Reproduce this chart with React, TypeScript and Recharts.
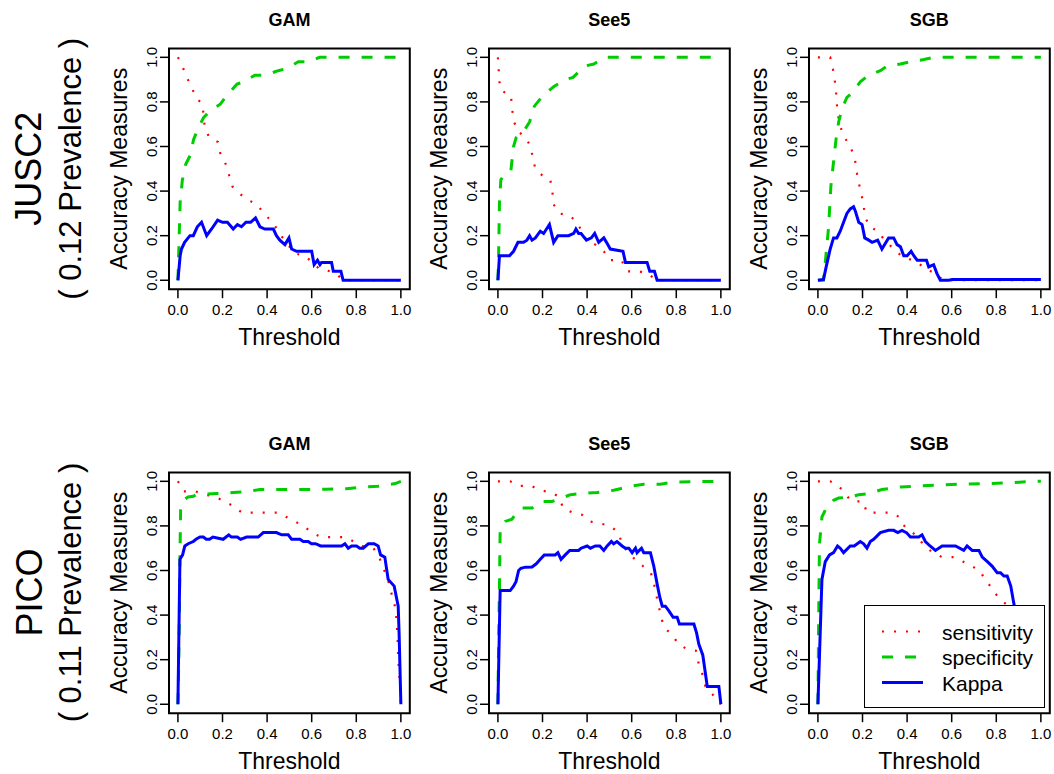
import { LineChart, Line, XAxis, YAxis, ReferenceArea, Legend } from 'recharts'

type Pt = [number, number]

// threshold vs measure
// JUSC2 (0.12 prevalence)
const gamJuscSens: Pt[] = [[0, 1], [0.02, 0.96], [0.04, 0.91], [0.06, 0.87], [0.08, 0.82], [0.11, 0.79], [0.115, 0.74], [0.12, 0.69], [0.14, 0.64], [0.18, 0.62], [0.19, 0.57], [0.215, 0.52], [0.23, 0.47], [0.245, 0.42], [0.275, 0.39], [0.315, 0.36], [0.355, 0.34], [0.385, 0.3], [0.415, 0.27], [0.445, 0.23], [0.47, 0.19], [0.525, 0.12], [0.57, 0.11], [0.635, 0.05], [0.685, 0.04], [0.72, 0.02], [0.74, 0], [1, 0]]
const gamJuscSpec: Pt[] = [[0, 0], [0.01, 0.35], [0.02, 0.45], [0.035, 0.52], [0.055, 0.56], [0.07, 0.63], [0.09, 0.68], [0.115, 0.73], [0.145, 0.76], [0.19, 0.79], [0.22, 0.83], [0.265, 0.88], [0.295, 0.89], [0.345, 0.92], [0.39, 0.92], [0.45, 0.94], [0.49, 0.95], [0.54, 0.98], [0.585, 0.98], [0.635, 1], [1, 1]]
const gamJuscKappa: Pt[] = [[0, 0], [0.01, 0.11], [0.016, 0.14], [0.03, 0.17], [0.054, 0.2], [0.069, 0.2], [0.087, 0.24], [0.106, 0.26], [0.129, 0.2], [0.151, 0.23], [0.178, 0.27], [0.2, 0.26], [0.222, 0.26], [0.248, 0.23], [0.267, 0.25], [0.285, 0.24], [0.305, 0.26], [0.326, 0.26], [0.348, 0.28], [0.368, 0.24], [0.39, 0.23], [0.428, 0.23], [0.442, 0.2], [0.457, 0.18], [0.48, 0.16], [0.498, 0.19], [0.51, 0.14], [0.532, 0.13], [0.6, 0.13], [0.611, 0.07], [0.626, 0.09], [0.637, 0.07], [0.644, 0.08], [0.689, 0.08], [0.697, 0.04], [0.731, 0.04], [0.741, 0], [1, 0]]

const see5JuscSens: Pt[] = [[0, 1], [0.003, 0.95], [0.007, 0.89], [0.015, 0.85], [0.058, 0.83], [0.064, 0.77], [0.069, 0.72], [0.088, 0.67], [0.124, 0.64], [0.147, 0.6], [0.156, 0.55], [0.168, 0.5], [0.199, 0.47], [0.235, 0.45], [0.244, 0.4], [0.25, 0.34], [0.275, 0.3], [0.322, 0.29], [0.355, 0.26], [0.376, 0.22], [0.397, 0.18], [0.437, 0.16], [0.475, 0.13], [0.501, 0.09], [0.554, 0.09], [0.579, 0.04], [0.632, 0.04], [0.677, 0.03], [0.707, 0], [1, 0]]
const see5JuscSpec: Pt[] = [[0, 0], [0.003, 0.11], [0.007, 0.35], [0.013, 0.45], [0.025, 0.47], [0.058, 0.49], [0.07, 0.6], [0.082, 0.64], [0.123, 0.68], [0.142, 0.71], [0.163, 0.78], [0.187, 0.81], [0.228, 0.85], [0.253, 0.87], [0.302, 0.9], [0.337, 0.91], [0.388, 0.96], [0.43, 0.97], [0.478, 1], [0.52, 1], [1, 1]]
const see5JuscKappa: Pt[] = [[0, 0], [0.007, 0.11], [0.052, 0.11], [0.07, 0.13], [0.09, 0.17], [0.115, 0.17], [0.13, 0.18], [0.142, 0.2], [0.153, 0.18], [0.168, 0.19], [0.19, 0.22], [0.205, 0.21], [0.231, 0.25], [0.25, 0.17], [0.269, 0.2], [0.317, 0.2], [0.34, 0.21], [0.35, 0.23], [0.362, 0.21], [0.373, 0.21], [0.397, 0.18], [0.419, 0.19], [0.434, 0.21], [0.452, 0.17], [0.475, 0.19], [0.487, 0.17], [0.504, 0.14], [0.561, 0.13], [0.572, 0.08], [0.669, 0.08], [0.681, 0.04], [0.702, 0.04], [0.714, 0], [1, 0]]

const sgbJuscSens: Pt[] = [[0, 1], [0.055, 1], [0.067, 0.95], [0.075, 0.9], [0.081, 0.85], [0.085, 0.79], [0.09, 0.74], [0.1, 0.69], [0.12, 0.64], [0.145, 0.6], [0.165, 0.55], [0.172, 0.5], [0.18, 0.45], [0.192, 0.4], [0.205, 0.34], [0.21, 0.29], [0.231, 0.24], [0.271, 0.22], [0.298, 0.18], [0.374, 0.11], [0.445, 0.08], [0.487, 0.05], [0.527, 0.03], [0.557, 0.004], [0.564, 0], [1, 0]]
const sgbJuscSpec: Pt[] = [[0, 0], [0.025, 0], [0.033, 0.08], [0.048, 0.24], [0.058, 0.42], [0.07, 0.53], [0.081, 0.63], [0.093, 0.71], [0.108, 0.77], [0.13, 0.82], [0.153, 0.84], [0.19, 0.89], [0.228, 0.92], [0.28, 0.94], [0.31, 0.96], [0.37, 0.97], [0.415, 0.98], [0.475, 0.99], [0.52, 1], [1, 1]]
const sgbJuscKappa: Pt[] = [[0, 0], [0.025, 0.004], [0.037, 0.06], [0.055, 0.14], [0.07, 0.19], [0.085, 0.19], [0.1, 0.22], [0.115, 0.26], [0.13, 0.3], [0.145, 0.32], [0.16, 0.33], [0.168, 0.31], [0.183, 0.26], [0.198, 0.25], [0.21, 0.19], [0.228, 0.18], [0.243, 0.17], [0.268, 0.18], [0.287, 0.14], [0.317, 0.19], [0.34, 0.19], [0.355, 0.16], [0.37, 0.15], [0.385, 0.11], [0.4, 0.11], [0.418, 0.13], [0.43, 0.11], [0.445, 0.09], [0.487, 0.09], [0.497, 0.06], [0.519, 0.07], [0.534, 0.03], [0.549, 0], [0.587, 0], [0.602, 0.003], [1, 0.003]]

// PICO (0.11 prevalence)
const gamPicoSens: Pt[] = [[0, 1], [0.024, 0.955], [0.078, 0.955], [0.124, 0.94], [0.169, 0.93], [0.208, 0.91], [0.247, 0.89], [0.286, 0.86], [0.447, 0.86], [0.486, 0.84], [0.525, 0.82], [0.562, 0.8], [0.602, 0.77], [0.641, 0.75], [0.749, 0.75], [0.788, 0.73], [0.827, 0.71], [0.877, 0.7], [0.903, 0.66], [0.921, 0.61], [0.94, 0.57], [0.951, 0.52], [0.966, 0.47], [0.978, 0.42], [0.981, 0.36], [0.985, 0.31], [0.988, 0.2], [0.992, 0.15], [1, 0]]
const gamPicoSpec: Pt[] = [[0, 0], [0.002, 0.09], [0.006, 0.35], [0.009, 0.65], [0.012, 0.87], [0.024, 0.915], [0.046, 0.93], [0.069, 0.933], [0.084, 0.94], [0.173, 0.945], [0.248, 0.95], [0.293, 0.952], [0.368, 0.963], [0.517, 0.963], [0.667, 0.964], [0.756, 0.967], [0.846, 0.975], [0.898, 0.978], [0.975, 0.99], [1, 1]]
const gamPicoKappa: Pt[] = [[0, 0], [0.009, 0.65], [0.021, 0.67], [0.031, 0.71], [0.046, 0.72], [0.069, 0.73], [0.081, 0.74], [0.099, 0.75], [0.114, 0.75], [0.127, 0.74], [0.142, 0.74], [0.157, 0.75], [0.203, 0.74], [0.228, 0.76], [0.24, 0.75], [0.266, 0.75], [0.281, 0.74], [0.308, 0.75], [0.36, 0.75], [0.383, 0.77], [0.442, 0.77], [0.465, 0.76], [0.495, 0.76], [0.51, 0.74], [0.547, 0.74], [0.562, 0.73], [0.584, 0.73], [0.599, 0.72], [0.617, 0.72], [0.64, 0.71], [0.734, 0.71], [0.749, 0.72], [0.764, 0.7], [0.779, 0.71], [0.801, 0.71], [0.816, 0.7], [0.831, 0.7], [0.854, 0.72], [0.88, 0.72], [0.898, 0.71], [0.909, 0.67], [0.928, 0.66], [0.943, 0.56], [0.97, 0.53], [0.988, 0.44], [0.992, 0.32], [1, 0]]

const see5PicoSens: Pt[] = [[0, 1], [0.055, 1], [0.093, 0.98], [0.148, 0.98], [0.189, 0.96], [0.241, 0.95], [0.275, 0.93], [0.292, 0.88], [0.335, 0.86], [0.377, 0.85], [0.412, 0.82], [0.463, 0.81], [0.504, 0.8], [0.54, 0.77], [0.557, 0.72], [0.584, 0.68], [0.615, 0.65], [0.65, 0.62], [0.686, 0.59], [0.7, 0.54], [0.71, 0.49], [0.722, 0.44], [0.731, 0.39], [0.749, 0.34], [0.784, 0.31], [0.808, 0.27], [0.844, 0.25], [0.888, 0.24], [0.901, 0.18], [0.919, 0.13], [0.931, 0.08], [0.958, 0.05], [1, 0]]
const see5PicoSpec: Pt[] = [[0, 0], [0.003, 0.27], [0.007, 0.53], [0.01, 0.78], [0.033, 0.82], [0.063, 0.83], [0.085, 0.86], [0.108, 0.88], [0.153, 0.88], [0.198, 0.91], [0.243, 0.91], [0.287, 0.925], [0.325, 0.94], [0.37, 0.945], [0.445, 0.95], [0.519, 0.96], [0.549, 0.967], [0.609, 0.98], [0.654, 0.987], [0.729, 0.987], [0.789, 0.997], [0.819, 0.997], [1, 1]]
const see5PicoKappa: Pt[] = [[0, 0], [0.01, 0.51], [0.055, 0.51], [0.07, 0.53], [0.081, 0.55], [0.093, 0.6], [0.103, 0.61], [0.123, 0.615], [0.153, 0.616], [0.172, 0.63], [0.19, 0.65], [0.208, 0.67], [0.257, 0.67], [0.269, 0.68], [0.283, 0.65], [0.302, 0.67], [0.322, 0.69], [0.362, 0.69], [0.373, 0.7], [0.4, 0.71], [0.415, 0.7], [0.437, 0.71], [0.457, 0.71], [0.475, 0.69], [0.49, 0.71], [0.509, 0.73], [0.519, 0.72], [0.534, 0.73], [0.557, 0.71], [0.572, 0.7], [0.587, 0.7], [0.602, 0.68], [0.617, 0.7], [0.624, 0.68], [0.644, 0.7], [0.654, 0.68], [0.684, 0.68], [0.699, 0.62], [0.714, 0.54], [0.726, 0.48], [0.737, 0.44], [0.751, 0.44], [0.766, 0.42], [0.786, 0.39], [0.804, 0.39], [0.814, 0.36], [0.879, 0.36], [0.891, 0.32], [0.901, 0.27], [0.919, 0.22], [0.939, 0.08], [0.991, 0.08], [1, 0]]

const sgbPicoSens: Pt[] = [[0, 1], [0.055, 1], [0.093, 0.98], [0.15, 0.91], [0.202, 0.91], [0.22, 0.86], [0.325, 0.86], [0.365, 0.84], [0.388, 0.8], [0.437, 0.76], [0.479, 0.71], [0.515, 0.68], [0.557, 0.66], [0.609, 0.66], [0.65, 0.64], [0.689, 0.62], [0.726, 0.6], [0.749, 0.56], [0.781, 0.52], [0.808, 0.48], [0.843, 0.45], [0.88, 0.4], [0.92, 0.3], [0.96, 0.15], [1, 0]]
const sgbPicoSpec: Pt[] = [[0, 0], [0.003, 0.35], [0.007, 0.72], [0.018, 0.84], [0.04, 0.885], [0.07, 0.915], [0.093, 0.925], [0.145, 0.93], [0.183, 0.94], [0.228, 0.945], [0.287, 0.963], [0.37, 0.975], [0.519, 0.982], [0.639, 0.987], [0.772, 0.99], [0.879, 0.994], [0.954, 1], [1, 1]]
const sgbPicoKappa: Pt[] = [[0, 0], [0.018, 0.56], [0.033, 0.64], [0.052, 0.67], [0.07, 0.68], [0.088, 0.71], [0.1, 0.7], [0.115, 0.68], [0.145, 0.71], [0.163, 0.71], [0.19, 0.73], [0.205, 0.72], [0.22, 0.7], [0.235, 0.73], [0.25, 0.74], [0.28, 0.77], [0.317, 0.78], [0.34, 0.78], [0.358, 0.77], [0.377, 0.78], [0.397, 0.77], [0.415, 0.75], [0.452, 0.75], [0.467, 0.76], [0.482, 0.73], [0.503, 0.71], [0.527, 0.69], [0.557, 0.71], [0.602, 0.71], [0.617, 0.71], [0.654, 0.69], [0.669, 0.71], [0.692, 0.69], [0.722, 0.69], [0.737, 0.66], [0.76, 0.64], [0.781, 0.62], [0.804, 0.59], [0.819, 0.59], [0.834, 0.575], [0.849, 0.575], [0.865, 0.53], [0.879, 0.45], [0.92, 0.3], [0.96, 0.1], [1, 0]]

const thresholdTicks = [0, 0.2, 0.4, 0.6, 0.8, 1]
const measureTicks = [0, 0.2, 0.4, 0.6, 0.8, 1]
const modelNames = ['GAM', 'See5', 'SGB']
const datasetNames = ['JUSC2', 'PICO']
const prevalenceLabels = ['( 0.12 Prevalence )', '( 0.11 Prevalence )']
const seriesNames = ['sensitivity', 'specificity', 'Kappa']

const panels: Pt[][][] = [
  [
    [gamJuscSens, gamJuscSpec, gamJuscKappa],
    [see5JuscSens, see5JuscSpec, see5JuscKappa],
    [sgbJuscSens, sgbJuscSpec, sgbJuscKappa],
  ],
  [
    [gamPicoSens, gamPicoSpec, gamPicoKappa],
    [see5PicoSens, see5PicoSpec, see5PicoKappa],
    [sgbPicoSens, sgbPicoSpec, sgbPicoKappa],
  ],
]

const lineStyles = [
  { color: '#ff0000', dash: '2 10', width: 2.2 },
  { color: '#00cd00', dash: '11 12', width: 3 },
  { color: '#0000ff', dash: undefined, width: 3 },
]

const FONT = "'Liberation Sans', Arial, Helvetica, sans-serif"
const PAD = [-0.04, 1.04]
const BOX = 240.8
const Y_AXIS_W = 70
const X_AXIS_H = 62
const TOP = 48.4
const RIGHT = 9
const colLeft = [169.1, 488.9, 808.8]
const rowTop = [48.4, 472.1]

const toRows = (pts: Pt[]) => pts.map(([t, v]) => ({ t, v }))

const YTick = (props: any) => {
  const { x, y, payload } = props
  return (
    <text x={x} y={y} transform={`rotate(-90, ${x}, ${y})`} textAnchor='middle' fontSize={15} fill='#000'>
      {Number(payload.value).toFixed(1)}
    </text>
  )
}

const XTitle = (props: any) => {
  const vb = props.viewBox
  return (
    <text x={vb.x + vb.width / 2} y={vb.y + 56} textAnchor='middle' fontSize={23} fill='#000'>
      Threshold
    </text>
  )
}

const YTitle = (props: any) => {
  const vb = props.viewBox
  const x = vb.x + 28
  const y = vb.y + vb.height / 2
  return (
    <text x={x} y={y} transform={`rotate(-90, ${x}, ${y})`} textAnchor='middle' fontSize={23} fill='#000'>
      Accuracy Measures
    </text>
  )
}

const LegendBox = () => (
  <div style={{ width: 181, height: 103, background: '#fff', border: '1.5px solid #000', boxSizing: 'border-box' }}>
    <svg width={178} height={100} style={{ display: 'block' }}>
      {seriesNames.map((name, i) => {
        const y = 25.5 + 25.5 * i
        return (
          <g key={name}>
            <line x1={17} x2={58} y1={y} y2={y} stroke={lineStyles[i].color} strokeWidth={lineStyles[i].width} strokeDasharray={lineStyles[i].dash} />
            <text x={77} y={y + 8} fontSize={21} fill='#000' fontFamily={FONT}>
              {name}
            </text>
          </g>
        )
      })}
    </svg>
  </div>
)

const Panel = ({ row, col }: { row: number; col: number }) => {
  const series = panels[row][col]
  const showLegend = row === 1 && col === 2
  return (
    <div style={{ position: 'absolute', left: colLeft[col] - Y_AXIS_W, top: rowTop[row] - TOP }}>
      <LineChart
        width={Y_AXIS_W + BOX + RIGHT}
        height={TOP + BOX + X_AXIS_H}
        margin={{ top: TOP, right: RIGHT, bottom: 0, left: 0 }}
      >
        <XAxis
          type='number'
          dataKey='t'
          domain={PAD}
          allowDataOverflow
          ticks={thresholdTicks}
          tickFormatter={(v: number) => v.toFixed(1)}
          axisLine={false}
          tickSize={9}
          tickMargin={6}
          tick={{ fill: '#000', fontSize: 15 }}
          tickLine={{ stroke: '#000', strokeWidth: 1.5 }}
          height={X_AXIS_H}
          label={{ content: XTitle }}
        />
        <YAxis
          type='number'
          domain={PAD}
          allowDataOverflow
          ticks={measureTicks}
          axisLine={false}
          tickSize={9}
          tickMargin={3}
          tick={YTick}
          tickLine={{ stroke: '#000', strokeWidth: 1.5 }}
          width={Y_AXIS_W}
          label={{ content: YTitle }}
        />
        <ReferenceArea x1={PAD[0]} x2={PAD[1]} y1={PAD[0]} y2={PAD[1]} fill='none' fillOpacity={0} stroke='#000' strokeWidth={2} />
        {series.map((pts, i) => (
          <Line
            key={seriesNames[i]}
            data={toRows(pts)}
            dataKey='v'
            name={seriesNames[i]}
            type='linear'
            stroke={lineStyles[i].color}
            strokeWidth={lineStyles[i].width}
            strokeDasharray={lineStyles[i].dash}
            dot={false}
            activeDot={false}
            isAnimationActive={false}
          />
        ))}
        {showLegend && (
          <Legend
            layout='vertical'
            align='center'
            verticalAlign='middle'
            content={<LegendBox />}
            wrapperStyle={{ left: 125.5, top: 181.3, width: 181, height: 103 }}
          />
        )}
      </LineChart>
    </div>
  )
}

export default function App() {
  return (
    <div style={{ position: 'absolute', left: 0, top: 0, width: 1054, height: 774, overflow: 'hidden', background: '#fff', fontFamily: FONT }}>
      {[0, 1].map((row) => [0, 1, 2].map((col) => <Panel key={`${row}-${col}`} row={row} col={col} />))}
      <svg width={1054} height={774} style={{ position: 'absolute', left: 0, top: 0, pointerEvents: 'none' }}>
        {[0, 1].map((row) =>
          modelNames.map((m, col) => (
            <text key={`${row}-${m}`} x={colLeft[col] + BOX / 2} y={26 + row * 423.7} textAnchor='middle' fontSize={18} fontWeight='bold' fill='#000'>
              {m}
            </text>
          ))
        )}
        {datasetNames.map((d, row) => {
          const cy = rowTop[row] + BOX / 2
          return (
            <g key={d}>
              <text x={41.5} y={cy} transform={`rotate(-90, 41.5, ${cy})`} textAnchor='middle' fontSize={36} fill='#000'>
                {d}
              </text>
              <text x={81} y={cy} transform={`rotate(-90, 81, ${cy})`} textAnchor='middle' fontSize={31} fill='#000'>
                {prevalenceLabels[row]}
              </text>
            </g>
          )
        })}
      </svg>
    </div>
  )
}
